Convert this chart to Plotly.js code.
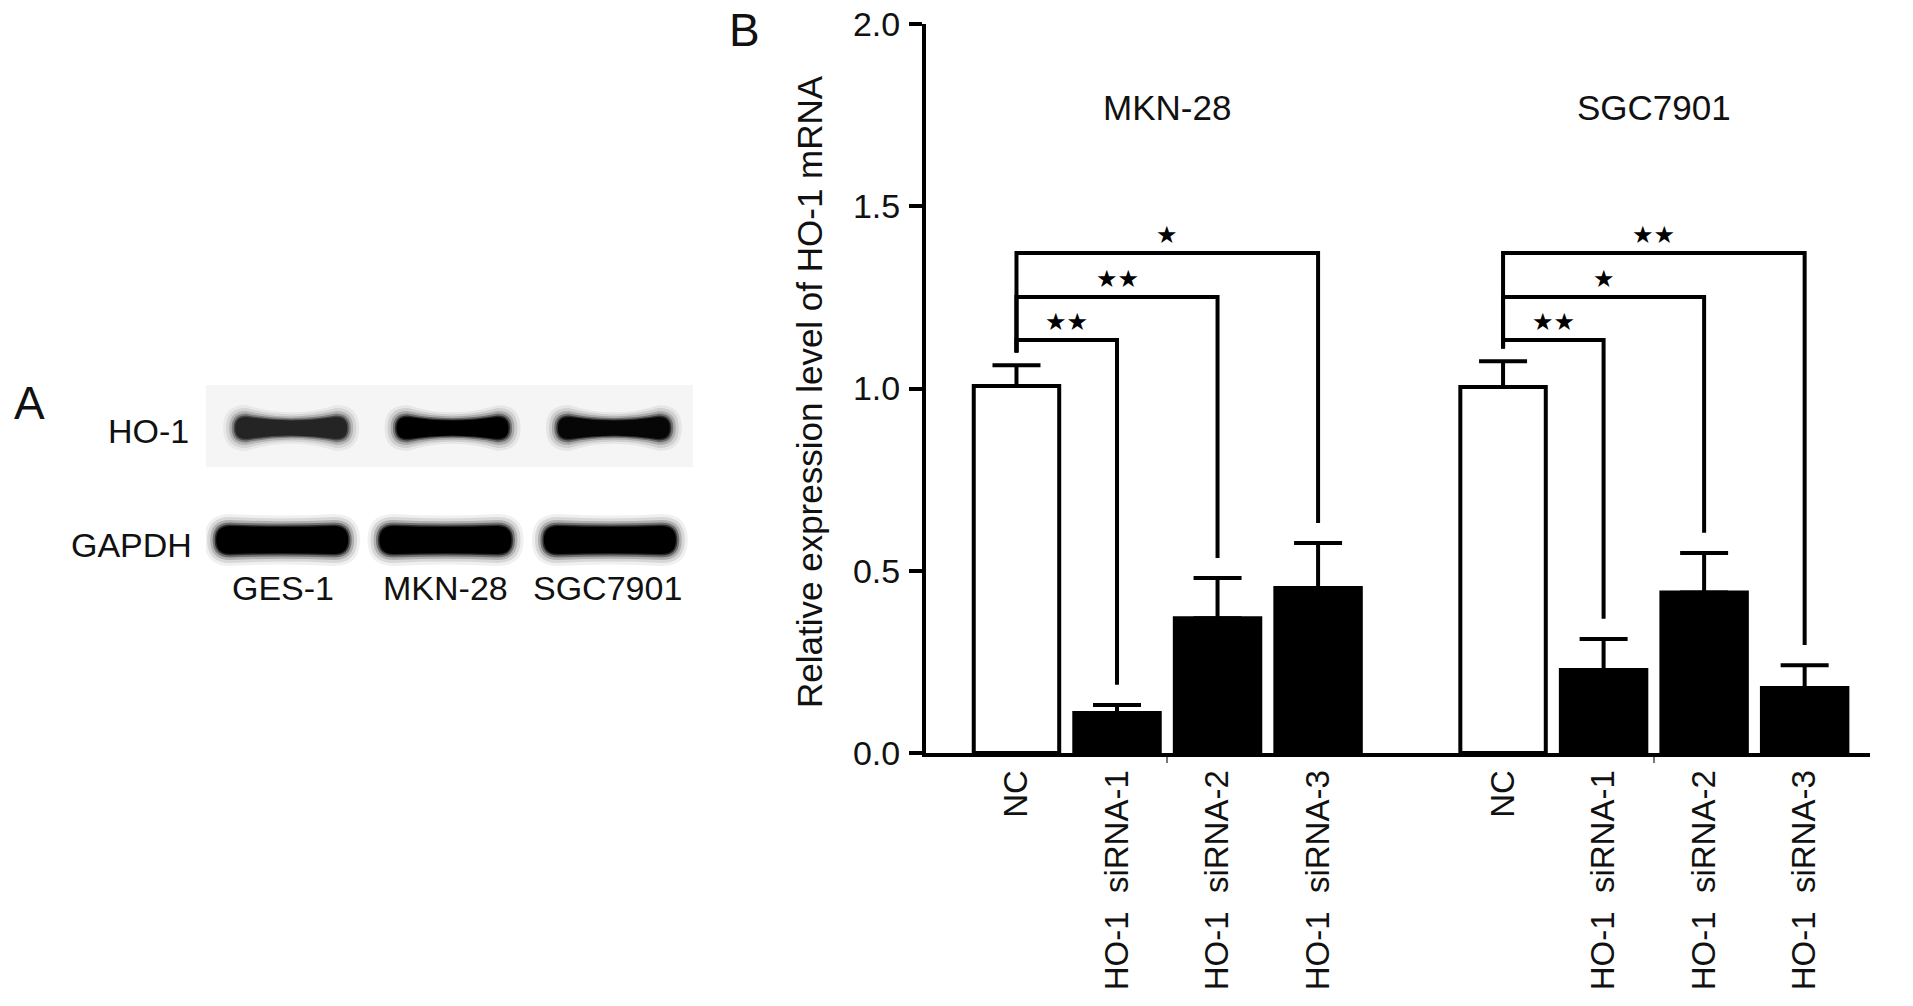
<!DOCTYPE html>
<html><head><meta charset="utf-8">
<script src="https://cdn.plot.ly/plotly-3.0.1.min.js"></script>
<style>html,body{margin:0;padding:0;background:#fff;} #chart{width:1913px;height:1006px;}</style>
</head><body><div id="chart"></div>
<script>
// ---------------- data ----------------
const groups = ['MKN-28', 'SGC7901'];
const conditions = ['NC', 'HO-1 siRNA-1', 'HO-1 siRNA-2', 'HO-1 siRNA-3'];
const mkn28Mean = [1.007, 0.110, 0.370, 0.453];
const mkn28Err  = [0.057, 0.022, 0.110, 0.123];
const sgc7901Mean = [1.004, 0.228, 0.440, 0.178];
const sgc7901Err  = [0.071, 0.085, 0.109, 0.063];
const mkn28Sig   = ['**', '**', '*'];   // siRNA-1, -2, -3 vs NC
const sgc7901Sig = ['**', '*', '**'];
const bracketLevels = [1.133, 1.251, 1.372];
const yTicks = [0, 0.5, 1.0, 1.5, 2.0];

const blotLanes = ['GES-1', 'MKN-28', 'SGC7901'];
const blotRows = ['HO-1', 'GAPDH'];
const ho1Intensity = [0.82, 1.0, 0.97];
const gapdhIntensity = [1.0, 1.0, 1.0];

// ---------------- layout constants ----------------
const W = 1913, H = 1006;
const FONT = 'Liberation Sans, Arial, Helvetica, sans-serif';
const groupStride = 4.84;
const xLeftPx = 926, xRightPx = 1870, yZeroPx = 753, yTopPx = 24;
const xRange = [-0.90, 8.49];

const means = [mkn28Mean, sgc7901Mean];
const errs = [mkn28Err, sgc7901Err];
const sigs = [mkn28Sig, sgc7901Sig];

const traces = [];
const tickvals = [], ticktext = [];
const shapes = [], annotations = [];
const nb = '\u00a0';

groups.forEach((g, gi) => {
  const xs = conditions.map((c, ci) => gi * groupStride + ci);
  xs.forEach((x, ci) => { tickvals.push(x); ticktext.push(conditions[ci].replace(' ', nb + ' ')); });
  traces.push({
    type: 'bar', x: xs, y: means[gi], width: 0.85, name: g,
    marker: { color: conditions.map((c, ci) => ci === 0 ? '#ffffff' : '#000000'),
              line: { color: '#000', width: 4 } },
    error_y: { type: 'data', symmetric: false, array: errs[gi], arrayminus: errs[gi].map(() => 0),
               color: '#000', thickness: 4, width: 24 },
    hoverinfo: 'x+y', showlegend: false, xaxis: 'x', yaxis: 'y'
  });
  // significance brackets
  const base = xs[0];
  const startY = means[gi][0] + errs[gi][0] + 0.035;
  for (let k = 1; k <= 3; k++) {
    const lvl = bracketLevels[k - 1];
    const endY = means[gi][k] + errs[gi][k] + 0.055;
    shapes.push({ type: 'path', xref: 'x', yref: 'y', layer: 'above',
      path: `M ${base},${startY} L ${base},${lvl} L ${xs[k]},${lvl} L ${xs[k]},${endY}`,
      line: { color: '#000', width: 4 } });
    annotations.push({ xref: 'x', yref: 'y', x: (base + xs[k]) / 2, y: lvl, yshift: 18,
      xanchor: 'center', yanchor: 'middle',
      text: sigs[gi][k - 1].replace(/\*/g, '★'), showarrow: false,
      font: { family: 'DejaVu Sans', size: 24, color: '#000' } });
  }
  // group title
  annotations.push({ xref: 'x', yref: 'y', x: gi * groupStride + 1.5, y: 1.772, text: g, showarrow: false,
    xanchor: 'center', font: { family: FONT, size: 35, color: '#111' } });
});
const groupCenters = groups.map((g, gi) => gi * groupStride + 1.5);

// ---------------- panel A: western blot ----------------
const laneUnitPx = (693 - 206) / 3, rowUnitPx = 112;
const ux = px => px / laneUnitPx, uy = px => px / rowUnitPx;
function bandPath(cx, cy, hw, hh, pinch) {
  const w = ux(hw), h = uy(hh), r = ux(hh), d = uy(2 * pinch * hh);
  const P = (x, y) => `${x.toFixed(4)},${y.toFixed(4)}`;
  return `M ${P(cx - w, cy)} Q ${P(cx - w, cy - h)} ${P(cx - w + r, cy - h)} ` +
         `Q ${P(cx, cy - h + d)} ${P(cx + w - r, cy - h)} ` +
         `Q ${P(cx + w, cy - h)} ${P(cx + w, cy)} ` +
         `Q ${P(cx + w, cy + h)} ${P(cx + w - r, cy + h)} ` +
         `Q ${P(cx, cy + h - d)} ${P(cx - w + r, cy + h)} ` +
         `Q ${P(cx - w, cy + h)} ${P(cx - w, cy)} Z`;
}
// faint membrane background behind HO-1 row
shapes.push({ type: 'rect', xref: 'x3', yref: 'y3', x0: -0.5, x1: 2.5, y0: -0.384, y1: 0.35,
  fillcolor: '#f5f5f5', line: { width: 0 }, layer: 'below' });
const blurLayers = [[12, 0.06], [9, 0.1], [6, 0.18], [3.5, 0.35], [1.5, 0.6], [0, 1]];
const rowStyle = [
  { hw: 56, hh: 11, pinch: 0.32, dx: [4, 3, 2] },
  { hw: 66, hh: 14, pinch: 0.06, dx: [-5, -4, -2] }
];
const rowLabelPx = [[191, 431], [194, 545]];
[ho1Intensity, gapdhIntensity].forEach((inten, ri) => {
  const st = rowStyle[ri];
  blotLanes.forEach((lane, li) => {
    const v = Math.round(40 * (1 - inten[li]) / 0.2);
    blurLayers.forEach(([e, op]) => {
      shapes.push({ type: 'path', xref: 'x3', yref: 'y3', layer: 'above',
        path: bandPath(li + ux(st.dx[li]), ri, st.hw + e, st.hh + e, st.pinch),
        fillcolor: `rgb(${v},${v},${v})`, opacity: op, line: { width: 0 } });
    });
  });
  annotations.push({ xref: 'paper', yref: 'paper', x: rowLabelPx[ri][0] / W, y: 1 - rowLabelPx[ri][1] / H,
    xanchor: 'right', yanchor: 'middle', text: blotRows[ri],
    showarrow: false, font: { family: FONT, size: 34, color: '#111' } });
});
blotLanes.forEach((lane, li) => {
  annotations.push({ xref: 'x3', yref: 'y3', x: li - ux(4), y: 1.43, text: lane, showarrow: false,
    xanchor: 'center', yanchor: 'middle', font: { family: FONT, size: 34, color: '#111' } });
});
traces.push({ type: 'scatter', mode: 'markers', x: [0, 1, 2], y: [0, 0, 0], xaxis: 'x3', yaxis: 'y3',
  marker: { opacity: 0 }, hoverinfo: 'skip', showlegend: false });

// panel letters and y title
annotations.push({ xref: 'paper', yref: 'paper', x: 30 / W, y: 1 - 403 / H, text: 'A', showarrow: false,
  xanchor: 'center', yanchor: 'middle', font: { family: FONT, size: 46, color: '#111' } });
annotations.push({ xref: 'paper', yref: 'paper', x: 744 / W, y: 1 - 30 / H, text: 'B', showarrow: false,
  xanchor: 'center', yanchor: 'middle', font: { family: FONT, size: 46, color: '#111' } });
annotations.push({ xref: 'paper', yref: 'paper', x: 809 / W, y: 1 - 392 / H, textangle: -90,
  xanchor: 'center', yanchor: 'middle',
  text: 'Relative expression level of HO-1 mRNA', showarrow: false,
  font: { family: FONT, size: 35, color: '#111' } });

const layout = {
  width: W, height: H, margin: { l: 0, r: 0, t: 0, b: 0 },
  paper_bgcolor: '#fff', plot_bgcolor: 'rgba(0,0,0,0)', showlegend: false,
  font: { family: FONT, color: '#111' },
  xaxis: { domain: [xLeftPx / W, xRightPx / W], range: xRange, anchor: 'y',
    tickmode: 'array', tickvals: tickvals, ticktext: ticktext, tickangle: -90,
    ticks: '', ticklabelstandoff: 0, tickfont: { family: FONT, size: 33, color: '#111' },
    showline: true, linecolor: '#000', linewidth: 4, showgrid: false, zeroline: false,
    minor: { tickmode: 'array', tickvals: groupCenters, ticks: 'outside', ticklen: 6, tickwidth: 2, tickcolor: '#777', showgrid: false },
    automargin: false, fixedrange: true },
  yaxis: { domain: [1 - yZeroPx / H, 1 - yTopPx / H], range: [0, 2], anchor: 'x',
    tickmode: 'array', tickvals: yTicks, ticktext: yTicks.map(v => v.toFixed(1)),
    ticks: 'outside', ticklen: 13, tickwidth: 4, tickcolor: '#000', ticklabelstandoff: 2,
    tickfont: { family: FONT, size: 34, color: '#111' },
    showline: true, linecolor: '#000', linewidth: 4, showgrid: false, zeroline: false,
    automargin: false, fixedrange: true },
  xaxis3: { domain: [206 / W, 693 / W], range: [-0.5, 2.5], anchor: 'y3', visible: false, fixedrange: true },
  yaxis3: { domain: [1 - 652 / H, 1 - 372 / H], range: [2.0, -0.5], anchor: 'x3', visible: false, fixedrange: true },
  shapes: shapes, annotations: annotations, bargap: 0
};
Plotly.newPlot('chart', traces, layout, { displayModeBar: false, staticPlot: true });
</script></body></html>
